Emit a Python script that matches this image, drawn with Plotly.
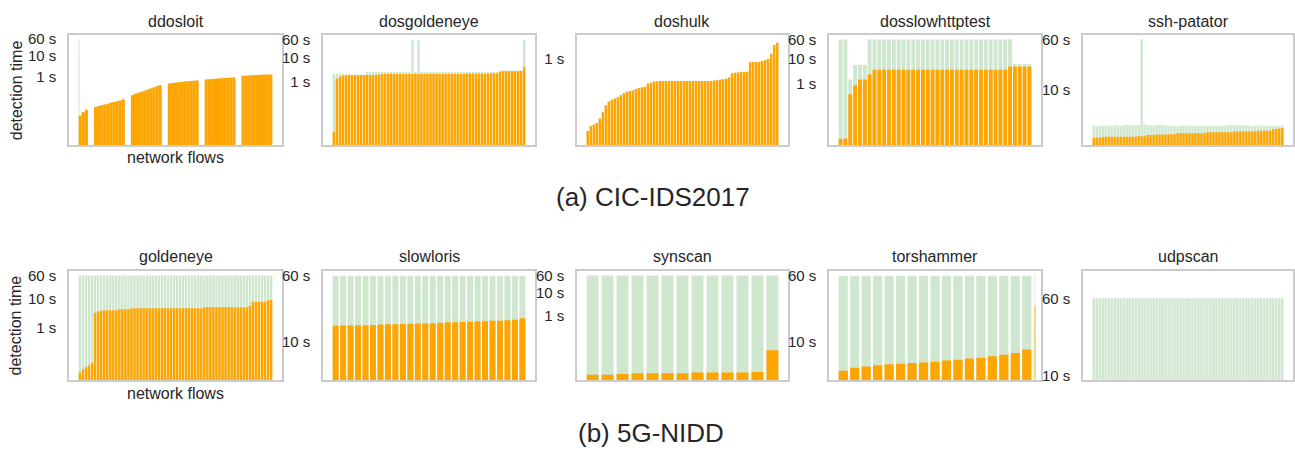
import plotly.graph_objects as go

# ---------------- data (seconds) ----------------
# (a) CIC-IDS2017
ddosloit_detect = [0.014, 0.02, 0.026, None, None,
                   0.036, 0.040, 0.043, 0.047, 0.051, 0.056, 0.061, 0.067, 0.073, 0.080, None, None,
                   0.13, 0.15, 0.17, 0.19, 0.21, 0.24, 0.27, 0.30, 0.34, 0.38, None, None,
                   0.47, 0.49, 0.51, 0.53, 0.55, 0.57, 0.59, 0.61, 0.63, 0.65, None, None,
                   0.72, 0.74, 0.76, 0.78, 0.80, 0.82, 0.84, 0.86, 0.88, 0.90, None, None,
                   1.07, 1.09, 1.11, 1.13, 1.15, 1.17, 1.19, 1.21, 1.23, 1.25]
ddosloit_total = [60.0] + ddosloit_detect[1:]

dosgoldeneye_detect = [0.007, 1.3, 1.6, 1.75, 1.85, 1.85, 1.9, 1.9,
                       1.9, 1.9, 1.9, 1.9, 1.9, 1.9, 1.95, 1.95,
                       2.05, 2.05, 2.1, 2.1, 2.1, 2.1, 2.1, 2.1,
                       2.1, 2.1, 2.1, 2.1, 2.1, 2.1, 2.1, 2.1,
                       2.1, 2.1, 2.1, 2.1, 2.1, 2.1, 2.1, 2.1,
                       2.1, 2.1, 2.1, 2.1, 2.15, 2.15, 2.15, 2.15,
                       2.15, 2.15, 2.15, 2.15, 2.2, 2.2, 2.2, 2.5,
                       2.7, 2.7, 2.7, 2.7, 2.7, 2.8, 2.8, 4.2]
dosgoldeneye_total = [2.0, 2.1, 2.1, 2.1, 2.1, 2.1, 1.9, 1.9,
                      1.9, 1.9, 1.9, 2.5, 2.5, 2.5, 2.5, 2.5,
                      2.5, 2.5, 2.5, 2.5, 2.5, 2.5, 2.5, 2.5,
                      2.5, 2.5, 60, 2.5, 60, 2.5, 2.5, 2.5,
                      2.5, 2.5, 2.5, 2.5, 2.5, 2.5, 2.5, 2.5,
                      2.5, 2.5, 2.5, 2.5, 2.5, 2.5, 2.5, 2.5,
                      2.5, 2.5, 2.5, 2.5, 2.5, 2.5, 2.5, 2.9,
                      2.9, 2.9, 2.9, 2.9, 2.9, 2.9, 2.9, 60]

doshulk_detect = [0.005, 0.0072, 0.008, 0.009, 0.0125, 0.02, 0.033, 0.044,
                  0.05, 0.055, 0.06, 0.07, 0.08, 0.09, 0.095, 0.098,
                  0.11, 0.118, 0.122, 0.13, 0.165, 0.175, 0.19, 0.19,
                  0.196, 0.196, 0.196, 0.196, 0.196, 0.196, 0.196, 0.196,
                  0.196, 0.196, 0.196, 0.196, 0.196, 0.196, 0.196, 0.196,
                  0.196, 0.196, 0.205, 0.21, 0.215, 0.225, 0.235, 0.255,
                  0.35, 0.36, 0.37, 0.385, 0.385, 0.39, 0.78, 0.79,
                  0.79, 0.8, 0.85, 0.93, 1.0, 1.45, 2.8, 3.3]
doshulk_total = list(doshulk_detect)

dosslowhttptest_detect = [0.0057, 0.006, 0.37, 0.85, 1.44, 1.44, 2.3,
                          3.6, 3.6, 3.6, 3.6, 3.6, 3.6, 3.6,
                          3.6, 3.6, 3.6, 3.6, 3.6, 3.6, 3.6,
                          3.6, 3.6, 3.6, 3.6, 3.6, 3.6, 3.6,
                          3.6, 3.6, 3.6, 3.6, 3.6, 3.6, 3.6,
                          4.8, 4.8, 4.8, 4.8, 4.8]
dosslowhttptest_total = [60, 60, 1.44, 5.6, 5.6, 5.6, 60,
                         60, 60, 60, 60, 60, 60, 60,
                         60, 60, 60, 60, 60, 60, 60,
                         60, 60, 60, 60, 60, 60, 60,
                         60, 60, 60, 60, 60, 60, 60, 60,
                         6.2, 6.2, 6.2, 6.2]

sshpatator_detect = [1.75, 1.77, 1.78, 1.8, 1.82, 1.82, 1.82, 1.82,
                     1.82, 1.82, 1.82, 1.82, 1.82, 1.82, 1.82, 1.86,
                     1.86, 1.86, 1.94, 1.94, 1.94, 1.98, 1.98, 1.98,
                     1.98, 2.0, 2.0, 2.0, 2.06, 2.06, 2.06, 2.06,
                     2.06, 2.06, 2.06, 2.06, 2.06, 2.06, 2.14, 2.14,
                     2.14, 2.14, 2.14, 2.14, 2.14, 2.14, 2.14, 2.2,
                     2.2, 2.2, 2.2, 2.2, 2.2, 2.2, 2.2, 2.26,
                     2.26, 2.26, 2.26, 2.26, 2.4, 2.42, 2.45, 2.5]
sshpatator_total = [2.7, 2.65, 2.7, 2.72, 2.75, 2.7, 2.68, 2.72,
                    2.75, 2.7, 2.78, 2.8, 2.75, 2.72, 2.8, 2.78,
                    60, 2.85, 2.8, 2.75, 2.72, 2.78, 2.82, 2.8,
                    2.75, 2.7, 2.72, 2.68, 2.65, 2.7, 2.72, 2.75,
                    2.7, 2.68, 2.72, 2.7, 2.65, 2.68, 2.7, 2.72,
                    2.68, 2.65, 2.7, 2.72, 2.7, 2.75, 2.78, 2.75,
                    2.72, 2.7, 2.75, 2.72, 2.7, 2.68, 2.72, 2.75,
                    2.7, 2.72, 2.68, 2.7, 2.72, 2.7, 2.68, 2.75]

# (b) 5G-NIDD
goldeneye_detect = [0.03, 0.038, 0.045, 0.052, 0.065, 3.2, 3.6, 3.8,
                    3.9, 3.9, 3.9, 3.9, 3.9, 4.2, 4.2, 4.2,
                    4.2, 4.6, 4.6, 4.6, 4.6, 4.6, 4.6, 4.6,
                    4.6, 4.6, 4.6, 4.6, 4.6, 4.6, 4.6, 4.6,
                    4.6, 4.6, 4.6, 4.6, 4.6, 4.6, 4.6, 4.6,
                    4.6, 5.0, 5.0, 5.0, 5.0, 5.0, 5.0, 5.0,
                    5.0, 5.0, 5.0, 5.0, 5.0, 5.0, 5.0, 5.0,
                    5.6, 7.6, 7.6, 7.6, 7.6, 7.6, 8.5, 8.8]
goldeneye_total = [60, 60, 60, 60, 60, 60, 60, 60,
                   60, 60, 60, 60, 60, 60, 60, 60,
                   60, 60, 60, 60, 60, 60, 60, 60,
                   60, 60, 60, 60, 60, 60, 60, 60,
                   60, 60, 60, 60, 60, 60, 60, 60,
                   60, 60, 60, 60, 60, 60, 60, 60,
                   60, 60, 60, 60, 60, 60, 60, 60,
                   60, 60, 60, 60, 60, 60, 60, 60]

slowloris_detect = [15.3, 15.4, 15.4, 15.5, 15.5, 15.6, 15.8, 15.9, 15.9, 16.0,
                    16.2, 16.3, 16.3, 16.4, 16.6, 16.8, 16.8, 17.0, 17.1, 17.2,
                    17.3, 17.5, 17.6, 17.8, 18.0, 18.8]
slowloris_total = [60, 60, 60, 60, 60, 60, 60, 60, 60, 60,
                   60, 60, 60, 60, 60, 60, 60, 60, 60, 60,
                   60, 60, 60, 60, 60, 60]

synscan_detect = [0.00225, 0.00225, 0.0024, 0.0026, 0.0026, 0.0026, 0.0026,
                  0.0028, 0.0028, 0.0028, 0.0028, 0.003, 0.028]
synscan_total = [60, 60, 60, 60, 60, 60, 60, 60, 60, 60, 60, 60, 60]

torshammer_detect = [4.5, 4.9, 5.05, 5.23, 5.37, 5.47, 5.56, 5.66, 5.76,
                     5.97, 6.08, 6.31, 6.41, 6.7, 7.0, 7.32, 8.07, 26.5]
torshammer_total = [60, 60, 60, 60, 60, 60, 60, 60, 60,
                    60, 60, 60, 60, 60, 60, 60, 60, 60]

udpscan_detect = []
udpscan_total = [61, 61, 61, 61, 61, 61, 61, 61,
                 61, 61, 61, 61, 61, 61, 61, 61,
                 61, 61, 61, 61, 61, 61, 61, 61,
                 61, 61, 61, 61, 61, 61, 61, 61,
                 61, 61, 61, 61, 61, 61, 61, 61,
                 61, 61, 61, 61, 61, 61, 61, 61,
                 61, 61, 61, 61, 61, 61, 61, 61,
                 61, 61, 61, 61, 61, 61, 61, 61]

panel_names = ["ddosloit", "dosgoldeneye", "doshulk", "dosslowhttptest", "ssh-patator",
               "goldeneye", "slowloris", "synscan", "torshammer", "udpscan"]
panel_total = [ddosloit_total, dosgoldeneye_total, doshulk_total, dosslowhttptest_total,
               sshpatator_total, goldeneye_total, slowloris_total, synscan_total,
               torshammer_total, udpscan_total]
panel_detect = [ddosloit_detect, dosgoldeneye_detect, doshulk_detect, dosslowhttptest_detect,
                sshpatator_detect, goldeneye_detect, slowloris_detect, synscan_detect,
                torshammer_detect, udpscan_detect]
# log10 y-ranges
panel_yrange = [[-3.26, 1.95], [-2.71, 1.96], [-2.75, 0.75], [-2.49, 1.94], [0.13, 1.84],
                [-1.79, 1.94], [0.535, 1.84], [-2.9, 2.0], [0.54, 1.84], [0.953, 2.066]]
tick_vals = [1, 10, 60]
tick_text = ["1 s", "10 s", "60 s"]
captions = ["(a) CIC-IDS2017", "(b) 5G-NIDD"]

# ---------------- layout / style ----------------
W, H = 1295, 453
GREEN = "#cfe6cf"
ORANGE = "#ffa500"
TXT = "#262626"
FONT = "Liberation Sans, Arial, sans-serif"
col_px = [(69, 282), (323, 535), (577, 788), (829, 1041), (1083, 1293)]
row_px = [(31, 143), (271, 383)]

fig = go.Figure()
layout = {}
annotations = []

for k in range(10):
    name = panel_names[k]
    total = panel_total[k]
    detect = panel_detect[k]
    r, c = divmod(k, 5)
    sfx = "" if k == 0 else str(k + 1)
    n = len(total)
    bw = 1.0 if name == "ddosloit" else 0.8
    xs = list(range(n))
    widths = [bw] * n
    opac = [1.0] * n
    nfull = n
    if name == "torshammer":
        nfull = n - 1
        xs[-1] = nfull - 1 + 0.7
        widths[-1] = 0.18
        opac[-1] = 0.4
    gxs, gwidths, gopac = list(xs), list(widths), list(opac)
    if name == "ddosloit":
        # the first flow is drawn as a thin, faint line
        gxs[0] = -0.38
        gwidths[0] = 0.25
        gopac[0] = 0.5
    lo = -bw / 2
    hi = nfull - 1 + bw / 2
    m = 0.05 * (hi - lo)
    xr = [lo - m, hi + m]

    fig.add_trace(go.Bar(x=gxs, y=total, width=gwidths,
                         marker=dict(color=GREEN, opacity=gopac, line=dict(width=0)),
                         xaxis="x" + sfx, yaxis="y" + sfx, hoverinfo="skip", showlegend=False))
    if detect:
        fig.add_trace(go.Bar(x=xs[:len(detect)], y=detect, width=widths[:len(detect)],
                             marker=dict(color=ORANGE, opacity=opac[:len(detect)], line=dict(width=0)),
                             xaxis="x" + sfx, yaxis="y" + sfx, hoverinfo="skip", showlegend=False))

    x0, x1 = col_px[c]
    y0, y1 = row_px[r]
    layout["xaxis" + sfx] = dict(domain=[x0 / W, x1 / W], range=xr, showticklabels=False,
                                 ticks="", showgrid=False, zeroline=False, showline=True,
                                 mirror=True, linecolor="#cccccc", linewidth=1.5,
                                 anchor="y" + sfx, fixedrange=True)
    layout["yaxis" + sfx] = dict(domain=[1 - y1 / H, 1 - y0 / H], type="log", range=panel_yrange[k],
                                 tickvals=tick_vals, ticktext=tick_text, ticks="",
                                 showgrid=False, zeroline=False, showline=True, mirror=True,
                                 linecolor="#cccccc", linewidth=1.5, anchor="x" + sfx,
                                 tickfont=dict(size=15, color=TXT, family=FONT),
                                 ticklabelstandoff=8, fixedrange=True)
    annotations.append(dict(text=name, x=(x0 + x1) / 2 / W, y=1 - (y0 - 14) / H,
                            xref="paper", yref="paper", showarrow=False,
                            xanchor="center", yanchor="middle",
                            font=dict(size=16, color=TXT, family=FONT)))

for r in range(2):
    y0, y1 = row_px[r]
    annotations.append(dict(text="detection time", x=16 / W, y=1 - (y0 + y1) / 2 / H,
                            xref="paper", yref="paper", showarrow=False, textangle=-90,
                            xanchor="center", yanchor="middle",
                            font=dict(size=16, color=TXT, family=FONT)))
    annotations.append(dict(text="network flows", x=175 / W, y=1 - (y1 + 13) / H,
                            xref="paper", yref="paper", showarrow=False,
                            xanchor="center", yanchor="middle",
                            font=dict(size=16, color=TXT, family=FONT)))

annotations.append(dict(text=captions[0], x=653 / W, y=1 - 196 / H, xref="paper", yref="paper",
                        showarrow=False, xanchor="center", yanchor="middle",
                        font=dict(size=26, color=TXT, family=FONT)))
annotations.append(dict(text=captions[1], x=651 / W, y=1 - 437 / H, xref="paper", yref="paper",
                        showarrow=False, xanchor="center", yanchor="middle",
                        font=dict(size=26, color=TXT, family=FONT)))

fig.update_layout(width=W, height=H, margin=dict(l=0, r=0, t=0, b=0),
                  paper_bgcolor="white", plot_bgcolor="white", barmode="overlay",
                  annotations=annotations, font=dict(family=FONT, color=TXT), **layout)

fig.write_html("out.html", config={"displayModeBar": False})
